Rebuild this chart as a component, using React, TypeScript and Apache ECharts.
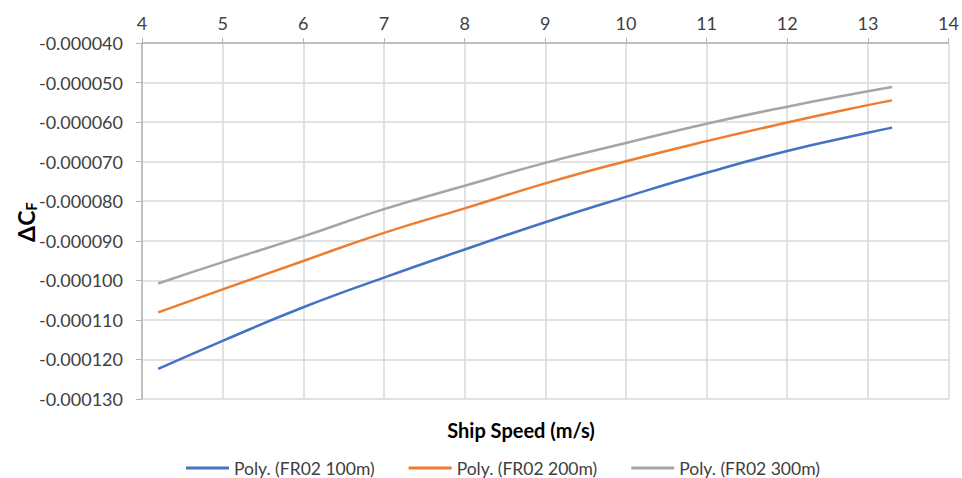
import React, { useEffect, useRef } from "react";
import * as echarts from "echarts";

const speeds = [4.2, 5, 6, 7, 8, 9, 10, 11, 12, 13, 13.3];
const fr02_100m = [-0.0001224, -0.0001153, -0.0001068, -0.0000993, -0.0000922, -0.0000853, -0.0000789, -0.0000728, -0.0000673, -0.0000627, -0.0000614];
const fr02_200m = [-0.0001081, -0.0001023, -0.0000951, -0.0000880, -0.0000818, -0.0000755, -0.0000699, -0.0000648, -0.0000601, -0.0000557, -0.0000545];
const fr02_300m = [-0.0001008, -0.0000954, -0.0000889, -0.0000820, -0.0000761, -0.0000703, -0.0000653, -0.0000604, -0.0000561, -0.0000522, -0.0000511];
const seriesNames = ["Poly. (FR02 100m)", "Poly. (FR02 200m)", "Poly. (FR02 300m)"];
const colors = ["#4472c4", "#ed7d31", "#a5a5a5"];

const FONT = "Lato, 'Noto Sans', sans-serif";

export default function App() {
  const ref = useRef<HTMLDivElement>(null);
  useEffect(() => {
    if (!ref.current) return;
    const chart = echarts.init(ref.current, null, { renderer: "svg" });
    const values = [fr02_100m, fr02_200m, fr02_300m];
    chart.setOption({
      animation: false,
      backgroundColor: "#ffffff",
      textStyle: { fontFamily: FONT },
      grid: { left: 142, right: 13, top: 43, bottom: 79 },
      xAxis: {
        type: "value",
        position: "top",
        min: 4,
        max: 14,
        interval: 1,
        axisLine: { show: true, lineStyle: { color: "#b4b4b4", width: 1.5 } },
        axisTick: { show: true, length: 5, lineStyle: { color: "#b4b4b4" } },
        axisLabel: { color: "#404040", fontSize: 18, margin: 11, fontFamily: FONT },
        splitLine: { show: true, lineStyle: { color: "#d9d9d9", width: 1.5 } },
      },
      yAxis: {
        type: "value",
        min: -0.00013,
        max: -0.00004,
        interval: 0.00001,
        axisLine: { show: true, lineStyle: { color: "#b4b4b4", width: 1.5 } },
        axisTick: { show: true, length: 6, lineStyle: { color: "#b4b4b4" } },
        axisLabel: {
          color: "#404040",
          fontSize: 18,
          margin: 19,
          fontFamily: FONT,
          formatter: (v: number) => v.toFixed(6),
        },
        splitLine: { show: true, lineStyle: { color: "#d9d9d9", width: 1.5 } },
      },
      legend: {
        left: 181,
        top: 454,
        itemWidth: 43,
        itemHeight: 3,
        itemGap: 34,
        icon: "rect",
        textStyle: { color: "#404040", fontSize: 17.5, fontFamily: FONT },
        data: seriesNames,
      },
      graphic: [
        {
          type: "text",
          x: 521,
          y: 430,
          style: {
            text: "Ship Speed (m/s)",
            fill: "#000000",
            font: `bold 20px ${FONT}`,
            align: "center",
            verticalAlign: "middle",
          },
        },
        {
          type: "text",
          x: 26,
          y: 222,
          rotation: Math.PI / 2,
          style: {
            text: "{a|ΔC}{b|F}",
            align: "center",
            verticalAlign: "middle",
            rich: {
              a: { fontSize: 23, fontWeight: "bold", fill: "#000000", fontFamily: FONT },
              b: { fontSize: 15, fontWeight: "bold", fill: "#000000", fontFamily: FONT, verticalAlign: "bottom", padding: [9, 0, 0, 0] },
            },
          },
        },
      ],
      series: seriesNames.map((name, i) => ({
        name,
        type: "line",
        smooth: true,
        showSymbol: false,
        symbol: "none",
        data: speeds.map((s, j) => [s, values[i][j]]),
        lineStyle: { color: colors[i], width: 2.5 },
        itemStyle: { color: colors[i] },
      })),
    });
    return () => chart.dispose();
  }, []);
  return <div ref={ref} style={{ width: 962, height: 478, position: "absolute", left: 0, top: 0 }} />;
}
